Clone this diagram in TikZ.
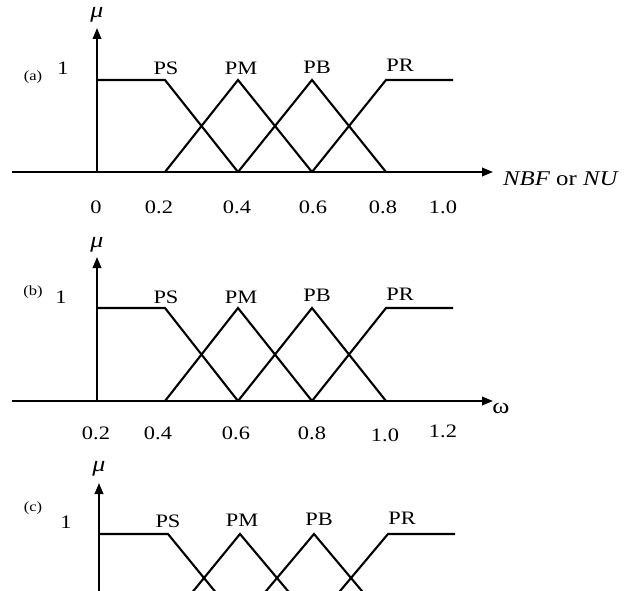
\documentclass[tikz,border=0pt]{standalone}
\usepackage{fontspec}
\setmainfont{Liberation Serif}[FakeStretch=1.18]
\usetikzlibrary{arrows.meta}
\tikzset{
  mf/.style={line width=2.1pt, line join=miter, line cap=butt},
  axisline/.style={line width=2.1pt, -{Triangle[length=11pt,width=8.5pt]}},
  lbl/.style={font=\fontsize{19}{19}\selectfont, inner sep=0pt},
  ticklbl/.style={font=\fontsize{19}{19}\selectfont, inner sep=0pt},
  tag/.style={font=\fontsize{14}{14}\selectfont, inner sep=0pt},
  greek/.style={font=\fontsize{22}{22}\selectfont, inner sep=0pt},
  varname/.style={font=\fontsize{21}{21}\selectfont, inner sep=0pt},
}
\begin{document}
\begin{tikzpicture}[x=1pt,y=-1pt]
\useasboundingbox (0,0) rectangle (632,591);
\clip (0,0) rectangle (632,591);

% ---------------- panel (a) ----------------
\coordinate (aO) at (12,172);
\coordinate (aX) at (493,172);
\coordinate (aYb) at (97,172);
\coordinate (aYt) at (97,28);
\draw[axisline] (aO) -- (aX);
\draw[axisline] (aYb) -- (aYt);
\draw[mf] (97,80) -- (165,80) -- (238,172);
\draw[mf] (165,172) -- (238,80) -- (312,172);
\draw[mf] (238,172) -- (312,80) -- (386,172);
\draw[mf] (312,172) -- (386,80) -- (453,80);
\node[greek] (amu) at (97,15) {\itshape μ};
\node[lbl] (aone) at (63,68) {1};
\node[tag] (atag) at (33,77) {(a)};
\node[lbl] (aPS) at (166,68) {PS};
\node[lbl] (aPM) at (241,68) {PM};
\node[lbl] (aPB) at (317,67) {PB};
\node[lbl] (aPR) at (400,65) {PR};
\node[ticklbl] (at0) at (96,207) {0};
\node[ticklbl] (at1) at (159,207) {0.2};
\node[ticklbl] (at2) at (237,207) {0.4};
\node[ticklbl] (at3) at (313,207) {0.6};
\node[ticklbl] (at4) at (383,207) {0.8};
\node[ticklbl] (at5) at (443,207) {1.0};
\node[varname, anchor=west] (avar) at (503,179) {\itshape NBF\upshape{} or \itshape NU};

% ---------------- panel (b) ----------------
\coordinate (bO) at (12,401);
\coordinate (bX) at (493,401);
\coordinate (bYb) at (97,401);
\coordinate (bYt) at (97,257);
\draw[axisline] (bO) -- (bX);
\draw[axisline] (bYb) -- (bYt);
\draw[mf] (97,308) -- (165,308) -- (238,401);
\draw[mf] (165,401) -- (238,308) -- (312,401);
\draw[mf] (238,401) -- (312,308) -- (386,401);
\draw[mf] (312,401) -- (386,308) -- (453,308);
\node[greek] (bmu) at (97,245) {\itshape μ};
\node[lbl] (bone) at (61,297) {1};
\node[tag] (btag) at (33,292) {(b)};
\node[lbl] (bPS) at (166,297) {PS};
\node[lbl] (bPM) at (241,297) {PM};
\node[lbl] (bPB) at (317,295) {PB};
\node[lbl] (bPR) at (400,294) {PR};
\node[ticklbl] (bt1) at (96,433) {0.2};
\node[ticklbl] (bt2) at (158,433) {0.4};
\node[ticklbl] (bt3) at (236,433) {0.6};
\node[ticklbl] (bt4) at (312,433) {0.8};
\node[ticklbl] (bt5) at (385,435) {1.0};
\node[ticklbl] (bt6) at (443,431) {1.2};
\node[greek] (bvar) at (501,408) {ω};

% ---------------- panel (c) ----------------
\coordinate (cO) at (12,622);
\coordinate (cX) at (493,622);
\coordinate (cYb) at (99,622);
\coordinate (cYt) at (99,483);
\draw[axisline] (cO) -- (cX);
\draw[axisline] (cYb) -- (cYt);
\draw[mf] (99,534) -- (168,534) -- (240,622);
\draw[mf] (168,622) -- (240,534) -- (314,622);
\draw[mf] (240,622) -- (314,534) -- (388,622);
\draw[mf] (314,622) -- (388,534) -- (455,534);
\node[greek] (cmu) at (99,469) {\itshape μ};
\node[lbl] (cone) at (66,522) {1};
\node[tag] (ctag) at (33,508) {(c)};
\node[lbl] (cPS) at (168,521) {PS};
\node[lbl] (cPM) at (242,520) {PM};
\node[lbl] (cPB) at (319,519) {PB};
\node[lbl] (cPR) at (402,518) {PR};
\end{tikzpicture}
\end{document}
